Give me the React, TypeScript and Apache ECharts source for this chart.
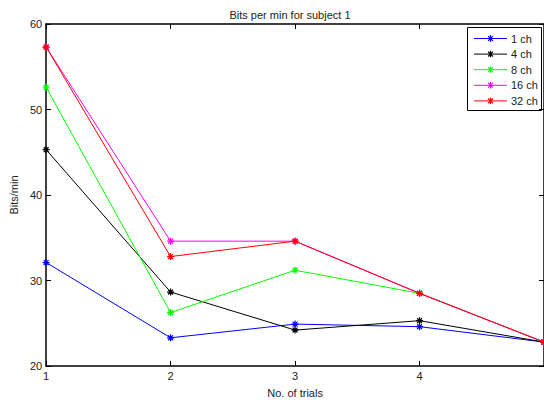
import React, { useEffect, useRef } from "react";
import * as echarts from "echarts";

const trials = [1, 2, 3, 4, 5];
const xTicks = [1, 2, 3, 4];
const yTicks = [20, 30, 40, 50, 60];
const seriesNames = ["1 ch", "4 ch", "8 ch", "16 ch", "32 ch"];
const seriesColors = ["#0000ff", "#000000", "#00ff00", "#ff00ff", "#ff0000"];
const ch1 = [32.1, 23.3, 24.9, 24.6, 22.8];
const ch4 = [45.3, 28.65, 24.2, 25.3, 22.8];
const ch8 = [52.6, 26.25, 31.2, 28.5, 22.8];
const ch16 = [57.3, 34.6, 34.6, 28.5, 22.8];
const ch32 = [57.3, 32.8, 34.6, 28.5, 22.8];
const allValues = [ch1, ch4, ch8, ch16, ch32];

const star =
  "path://M5,0 L5,10 M0,5 L10,5 M1.5,1.5 L8.5,8.5 M1.5,8.5 L8.5,1.5";

function legendGraphic(font: string) {
  const x0 = 467.5;
  const y0 = 27.5;
  const w = 74;
  const h = 83;
  const children: any[] = [
    {
      type: "rect",
      shape: { x: x0, y: y0, width: w, height: h },
      style: { fill: "#fff", stroke: "#000", lineWidth: 1 },
    },
  ];
  seriesNames.forEach((name, i) => {
    const cy = 38.5 + i * 15.6;
    const c = seriesColors[i];
    const cx = 490.5;
    const r = 3.3;
    const d = r * 0.72;
    children.push(
      { type: "line", shape: { x1: 474, y1: cy, x2: 507, y2: cy }, style: { stroke: c, lineWidth: 1 } },
      { type: "line", shape: { x1: cx, y1: cy - r, x2: cx, y2: cy + r }, style: { stroke: c, lineWidth: 1.2 } },
      { type: "line", shape: { x1: cx - d, y1: cy - d, x2: cx + d, y2: cy + d }, style: { stroke: c, lineWidth: 1.2 } },
      { type: "line", shape: { x1: cx - d, y1: cy + d, x2: cx + d, y2: cy - d }, style: { stroke: c, lineWidth: 1.2 } },
      {
        type: "text",
        x: 511,
        y: cy,
        style: { text: name, fill: "#222", font: `11px ${font}`, verticalAlign: "middle", align: "left" },
      }
    );
  });
  return { type: "group", z: 100, children };
}

export default function App() {
  const ref = useRef<HTMLDivElement>(null);
  useEffect(() => {
    const chart = echarts.init(ref.current!, null, { renderer: "svg" });
    const font = "Liberation Sans, Arial, sans-serif";
    const axisLine = { show: true, lineStyle: { color: "#000", width: 1.5 } };
    chart.setOption({
      animation: false,
      backgroundColor: "#fff",
      textStyle: { fontFamily: font },
      title: {
        text: "Bits per min for subject 1",
        left: 285,
        textAlign: "center",
        top: 4,
        textStyle: { fontSize: 11, fontWeight: "normal", color: "#222", fontFamily: font },
      },
      grid: { left: 45, top: 24, width: 500, height: 343 },
      graphic: [legendGraphic(font)],
      xAxis: [
        {
          type: "value",
          min: 1,
          max: 5,
          interval: 1,
          name: "No. of trials",
          nameLocation: "middle",
          nameGap: 21,
          nameTextStyle: { fontSize: 11, color: "#222" },
          axisLine,
          axisTick: { inside: true, length: 5, lineStyle: { color: "#000" } },
          axisLabel: {
            fontSize: 11,
            color: "#222",
            margin: 4,
            showMaxLabel: false,
            formatter: (v: number) => (xTicks.includes(v) ? String(v) : ""),
          },
          splitLine: { show: false },
        },
        {
          type: "value",
          position: "top",
          min: 1,
          max: 5,
          interval: 1,
          axisLine,
          axisTick: { inside: true, length: 5, lineStyle: { color: "#000" } },
          axisLabel: { show: false },
          splitLine: { show: false },
        },
      ],
      yAxis: [
        {
          type: "value",
          min: yTicks[0],
          max: yTicks[yTicks.length - 1],
          interval: 10,
          name: "Bits/min",
          nameLocation: "middle",
          nameGap: 26,
          nameTextStyle: { fontSize: 11, color: "#222" },
          axisLine,
          axisTick: { inside: true, length: 5, lineStyle: { color: "#000" } },
          axisLabel: { fontSize: 11, color: "#222", margin: 4 },
          splitLine: { show: false },
        },
        {
          type: "value",
          position: "right",
          min: 20,
          max: 60,
          interval: 10,
          axisLine,
          axisTick: { inside: true, length: 5 },
          axisLabel: { show: false },
          splitLine: { show: false },
        },
      ],
      series: seriesNames.map((name, i) => ({
        name,
        type: "line",
        data: trials.map((t, j) => [t, allValues[i][j]]),
        symbol: star,
        symbolSize: 7,
        showSymbol: true,
        clip: false,
        lineStyle: { color: seriesColors[i], width: 1 },
        itemStyle: { color: seriesColors[i], borderColor: seriesColors[i], borderWidth: 1.2 },
        emphasis: { disabled: true },
      })),
    });
    return () => chart.dispose();
  }, []);
  return <div ref={ref} style={{ width: 544, height: 403, position: "absolute", left: 0, top: 0 }} />;
}
